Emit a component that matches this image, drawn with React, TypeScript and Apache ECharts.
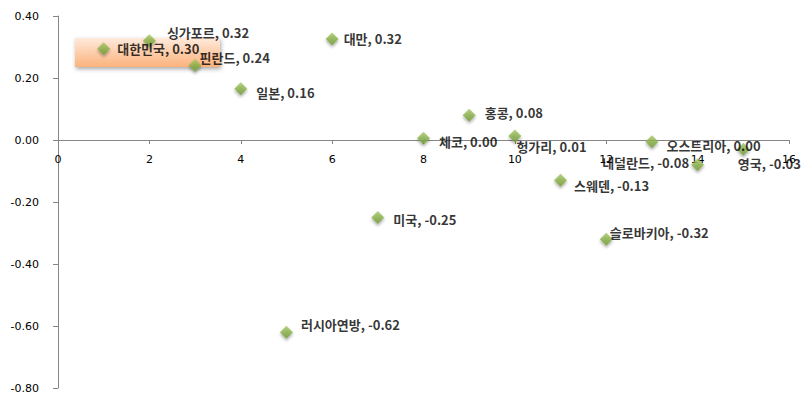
import React, { useEffect, useRef } from "react";
import * as echarts from "echarts";

const countries = [
  "대한민국", "싱가포르", "핀란드", "일본", "러시아연방", "대만", "미국", "체코",
  "홍콩", "헝가리", "스웨덴", "슬로바키아", "오스트리아", "네덜란드", "영국",
];
const xValues = [1, 2, 3, 4, 5, 6, 7, 8, 9, 10, 11, 12, 13, 14, 15];
const yValues = [0.30, 0.32, 0.24, 0.16, -0.62, 0.32, -0.25, 0.0, 0.08, 0.01, -0.13, -0.32, 0.0, -0.08, -0.03];
// marker positions read more finely (same points, for plotting)
const yPlot = [0.294, 0.32, 0.24, 0.165, -0.62, 0.326, -0.25, 0.006, 0.08, 0.013, -0.13, -0.32, -0.006, -0.08, -0.03];
const xTicks = { min: 0, max: 16, interval: 2 };
const yTicks = { min: -0.8, max: 0.4, interval: 0.2 };

// label layout offsets (px) relative to 'right' placement
const labelOffsets: [number, number][] = [
  [7, 0], [11, -8], [-2, -8], [9, 4], [8, -8], [5, 0], [9, 2], [9, 3],
  [9, -3], [-5, 11], [7, 5], [-3, -7], [8, 4], [-102, -2], [-12, 14],
];

const W = 811;
const H = 404;
const GRID = { left: 58, right: 22, top: 16, bottom: 16 };

export default function App() {
  const ref = useRef<HTMLDivElement>(null);
  useEffect(() => {
    if (!ref.current) return;
    const chart = echarts.init(ref.current, undefined, { renderer: "svg" });
    const data = xValues.map((x, i) => ({
      value: [x, yPlot[i]],
      name: countries[i],
      label: { offset: labelOffsets[i] },
    }));
    chart.setOption({
      animation: false,
      backgroundColor: "#ffffff",
      grid: { ...GRID, outerBoundsMode: "none", containLabel: false },
      graphic: [
        {
          type: "rect",
          z: 0,
          shape: { x: 75, y: 38, width: 145, height: 29 },
          style: {
            fill: new echarts.graphic.LinearGradient(0, 0, 0, 1, [
              { offset: 0, color: "#ffeadb" },
              { offset: 1, color: "#fbb27c" },
            ]),
            shadowBlur: 4,
            shadowOffsetY: 2,
            shadowOffsetX: 1,
            shadowColor: "rgba(0,0,0,0.35)",
          },
        },
      ],
      xAxis: {
        type: "value",
        min: xTicks.min,
        max: xTicks.max,
        interval: xTicks.interval,
        splitLine: { show: false },
        axisLine: { onZero: false, lineStyle: { color: "#868686" } },
        axisTick: { show: true, length: 4, lineStyle: { color: "#868686" } },
        axisLabel: { color: "#000", fontSize: 11, fontFamily: "DejaVu Sans", margin: 14 },
      },
      yAxis: {
        type: "value",
        min: yTicks.min,
        max: yTicks.max,
        interval: yTicks.interval,
        splitLine: { show: false },
        axisLine: { show: true, onZero: false, lineStyle: { color: "#868686" } },
        axisTick: { show: true, length: 5, lineStyle: { color: "#868686" } },
        axisLabel: {
          color: "#000",
          fontSize: 11,
          fontFamily: "DejaVu Sans",
          margin: 19,
          formatter: (v: number) => v.toFixed(2),
        },
      },
      series: [
        {
          type: "scatter",
          z: 3,
          symbol: "diamond",
          symbolSize: 13,
          itemStyle: {
            color: new echarts.graphic.LinearGradient(0, 0, 0, 1, [
              { offset: 0, color: "#a5c862" },
              { offset: 1, color: "#6f9a33" },
            ]),
            shadowBlur: 3,
            shadowOffsetY: 2,
            shadowColor: "rgba(0,0,0,0.4)",
          },
          label: {
            show: true,
            position: "right",
            distance: 0,
            color: "#000",
            fontSize: 13,
            fontWeight: "bold",
            fontFamily: "Noto Sans CJK KR",
            formatter: (p: any) => `${countries[p.dataIndex]}, ${yValues[p.dataIndex].toFixed(2)}`,
          },
          data,
        },
      ],
    });
    // place the x axis where y = 0 (axis crosses at zero)
    const zeroY = chart.convertToPixel({ yAxisIndex: 0 }, 0) as number;
    const bottomY = H - GRID.bottom;
    chart.setOption({ xAxis: { offset: zeroY - bottomY } });
    return () => chart.dispose();
  }, []);
  return <div ref={ref} style={{ width: W, height: H, margin: -8 }} />;
}
